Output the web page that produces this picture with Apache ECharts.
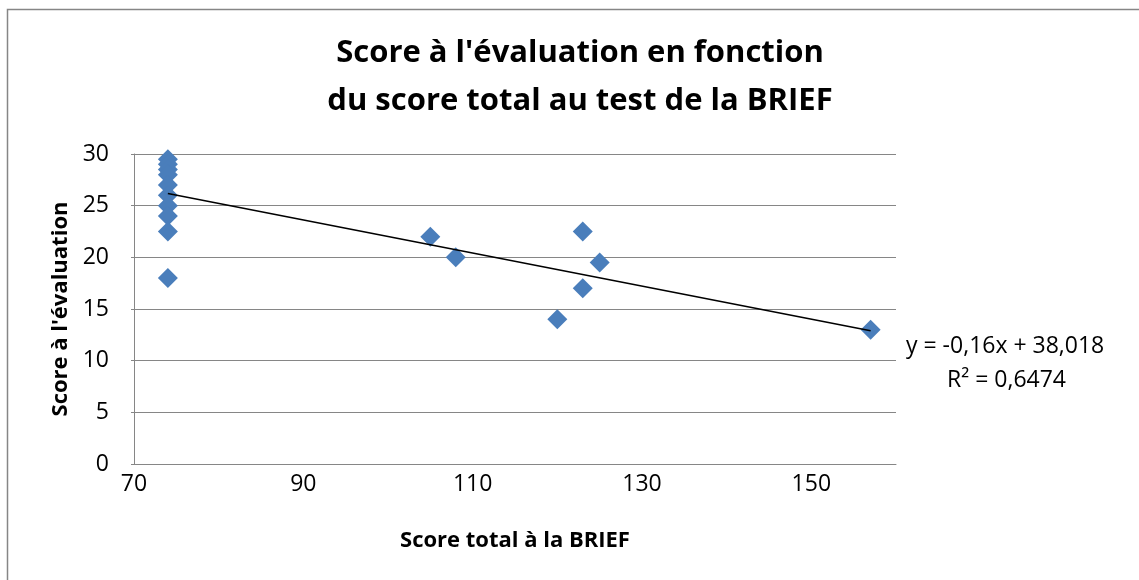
<!DOCTYPE html>
<html>
<head>
<meta charset="utf-8">
<script src="https://cdn.jsdelivr.net/npm/echarts@6/dist/echarts.min.js"></script>
<style>
  html, body { margin: 0; padding: 0; background: #fff; }
  #chart { width: 1139px; height: 580px; }
</style>
</head>
<body>
<div id="chart"></div>
<script>
// données
const scoreBrief = [74, 74, 74, 74, 74, 74, 74, 74, 74, 74, 105, 108, 120, 123, 123, 125, 157];
const scoreEval = [29.5, 29, 28.5, 28, 27, 26, 25, 24, 22.5, 18, 22, 20, 14, 22.5, 17, 19.5, 13];
const pente = -0.16;
const ordonnee = 38.018;
const r2 = '0,6474';
const xTicks = [70, 90, 110, 130, 150];

const police = '"Open Sans", Lato, sans-serif';

const points = scoreBrief.map((x, i) => [x, scoreEval[i]]);
const xMin = Math.min(...scoreBrief);
const xMax = Math.max(...scoreBrief);
const tendance = [xMin, xMax].map(x => [x, pente * x + ordonnee]);

const chart = echarts.init(document.getElementById('chart'));

chart.setOption({
    animation: false,
    textStyle: { fontFamily: police },
    title: {
        text: "Score à l'évaluation en fonction\ndu score total au test de la BRIEF",
        left: 575,
        top: 24,
        textAlign: 'center',
        textStyle: { fontSize: 31, fontWeight: 'bold', color: '#000', lineHeight: 48, fontFamily: police }
    },
    grid: { left: 134, right: 243, top: 154, bottom: 116 },
    xAxis: {
        type: 'value',
        min: 70,
        max: 160,
        interval: 20,
        name: 'Score total à la BRIEF',
        nameLocation: 'middle',
        nameGap: 66,
        nameTextStyle: { fontSize: 22, fontWeight: 'bold', color: '#000' },
        axisLine: { lineStyle: { color: '#868686' } },
        axisTick: { show: false },
        splitLine: { show: false },
        axisLabel: {
            fontSize: 23, color: '#000', margin: 9,
            formatter: v => xTicks.includes(v) ? String(v) : ''
        }
    },
    yAxis: {
        type: 'value',
        min: 0,
        max: 30,
        interval: 5,
        name: "Score à l'évaluation",
        nameLocation: 'middle',
        nameGap: 62,
        nameTextStyle: { fontSize: 22, fontWeight: 'bold', color: '#000' },
        axisLine: { show: true, lineStyle: { color: '#868686' } },
        axisTick: { show: true, length: 3, lineStyle: { color: '#868686' } },
        splitLine: { lineStyle: { color: '#868686' } },
        axisLabel: { fontSize: 23, color: '#000', margin: 25 }
    },
    series: [
        {
            type: 'scatter',
            data: points,
            symbol: 'diamond',
            symbolSize: [20, 20],
            itemStyle: { color: '#4A7EBB', opacity: 1 },
            z: 2
        },
        {
            type: 'line',
            data: tendance,
            symbol: 'none',
            lineStyle: { color: '#000', width: 1.5 },
            z: 3,
            silent: true
        }
    ],
    graphic: [
        {
            type: 'rect',
            shape: { x: 7.5, y: 9.5, width: 1200, height: 700 },
            style: { fill: 'none', stroke: '#868686', lineWidth: 1.5 },
            silent: true
        },
        {
            type: 'text',
            left: 906,
            top: 335,
            style: {
                text: 'y = ' + String(pente).replace('.', ',') + 'x + ' + String(ordonnee).replace('.', ','),
                fontSize: 23, fill: '#000', fontFamily: police
            }
        },
        {
            type: 'text',
            left: 947,
            top: 369,
            style: { text: 'R² = ' + r2, fontSize: 23, fill: '#000', fontFamily: police }
        }
    ]
});
</script>
</body>
</html>
